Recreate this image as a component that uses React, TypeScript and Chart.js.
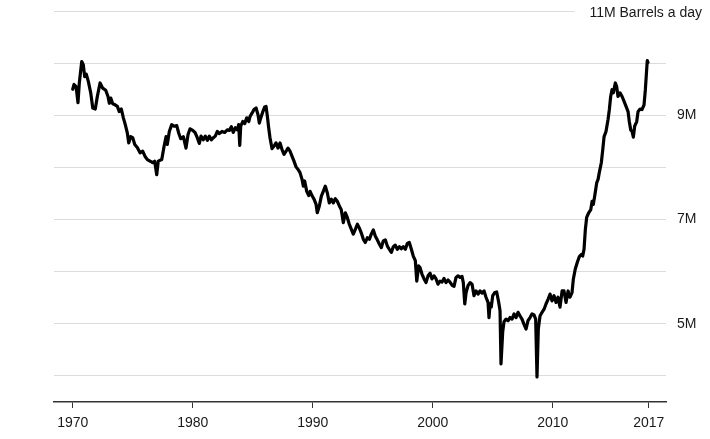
import React, { useEffect, useRef } from "react";
import { Chart, registerables } from "chart.js";

Chart.register(...registerables);

// US crude oil production, million barrels a day
const years = [
  1970.0, 1970.11, 1970.28, 1970.44, 1970.55, 1970.75, 1970.88, 1971.0, 1971.13, 1971.3,
  1971.5, 1971.67, 1971.88, 1972.05, 1972.28, 1972.5, 1972.75, 1972.94, 1973.05, 1973.17,
  1973.33, 1973.53, 1973.72, 1973.88, 1974.05, 1974.22, 1974.38, 1974.55, 1974.67, 1974.83,
  1975.0, 1975.17, 1975.38, 1975.61, 1975.83, 1976.03, 1976.22, 1976.44, 1976.67, 1976.83,
  1977.0, 1977.13, 1977.42, 1977.61, 1977.78, 1977.88, 1978.05, 1978.25, 1978.44, 1978.67,
  1978.83, 1979.0, 1979.22, 1979.44, 1979.61, 1979.78, 1980.0, 1980.19, 1980.38, 1980.55,
  1980.69, 1980.88, 1981.05, 1981.22, 1981.38, 1981.55, 1981.72, 1981.88, 1982.05, 1982.22,
  1982.44, 1982.67, 1982.88, 1983.05, 1983.22, 1983.38, 1983.55, 1983.72, 1983.83, 1983.92,
  1984.0, 1984.17, 1984.33, 1984.5, 1984.67, 1984.78, 1984.94, 1985.11, 1985.28, 1985.44,
  1985.55, 1985.67, 1985.83, 1986.0, 1986.11, 1986.22, 1986.33, 1986.44, 1986.61, 1986.78,
  1986.94, 1987.11, 1987.28, 1987.44, 1987.61, 1987.78, 1987.94, 1988.11, 1988.28, 1988.44,
  1988.61, 1988.78, 1988.94, 1989.11, 1989.22, 1989.33, 1989.5, 1989.67, 1989.78, 1989.94,
  1990.11, 1990.28, 1990.38, 1990.55, 1990.72, 1990.88, 1991.05, 1991.22, 1991.38, 1991.55,
  1991.72, 1991.88, 1992.05, 1992.22, 1992.38, 1992.55, 1992.72, 1992.88, 1993.05, 1993.22,
  1993.38, 1993.55, 1993.72, 1993.88, 1994.05, 1994.22, 1994.38, 1994.55, 1994.72, 1994.88,
  1995.05, 1995.22, 1995.38, 1995.55, 1995.72, 1995.88, 1996.05, 1996.22, 1996.38, 1996.55,
  1996.72, 1996.88, 1997.05, 1997.22, 1997.38, 1997.55, 1997.72, 1997.88, 1998.05, 1998.22,
  1998.38, 1998.55, 1998.67, 1998.83, 1998.94, 1999.11, 1999.28, 1999.44, 1999.61, 1999.78,
  1999.94, 2000.11, 2000.28, 2000.44, 2000.61, 2000.78, 2000.94, 2001.11, 2001.28, 2001.44,
  2001.61, 2001.78, 2001.94, 2002.11, 2002.28, 2002.44, 2002.55, 2002.67, 2002.78, 2002.94,
  2003.11, 2003.28, 2003.44, 2003.61, 2003.78, 2003.94, 2004.11, 2004.28, 2004.44, 2004.61,
  2004.69, 2004.78, 2004.88, 2005.0, 2005.17, 2005.33, 2005.5, 2005.61, 2005.69, 2005.83,
  2005.94, 2006.11, 2006.28, 2006.44, 2006.61, 2006.78, 2006.94, 2007.11, 2007.28, 2007.44,
  2007.61, 2007.78, 2007.94, 2008.11, 2008.28, 2008.44, 2008.58, 2008.69, 2008.8, 2008.94,
  2009.11, 2009.28, 2009.44, 2009.61, 2009.78, 2009.94, 2010.11, 2010.28, 2010.44, 2010.61,
  2010.78, 2010.94, 2011.11, 2011.28, 2011.44, 2011.61, 2011.72, 2011.88, 2012.05, 2012.22,
  2012.38, 2012.5, 2012.61, 2012.72, 2012.83, 2013.0, 2013.17, 2013.28, 2013.38, 2013.5,
  2013.67, 2013.78, 2013.88, 2014.05, 2014.17, 2014.28, 2014.44, 2014.61, 2014.72, 2014.83,
  2014.94, 2015.05, 2015.22, 2015.33, 2015.44, 2015.61, 2015.78, 2015.94, 2016.11, 2016.28,
  2016.38, 2016.5, 2016.61, 2016.72, 2016.83, 2017.0, 2017.11, 2017.28, 2017.44, 2017.61,
  2017.72, 2017.83, 2017.88, 2017.94,
];

const barrels = [
  9.5, 9.59, 9.55, 9.24, 9.62, 10.03, 9.97, 9.74, 9.79, 9.65,
  9.43, 9.14, 9.12, 9.36, 9.62, 9.52, 9.48, 9.36, 9.23, 9.33,
  9.22, 9.2, 9.17, 9.07, 9.12, 8.95, 8.82, 8.66, 8.47, 8.59,
  8.57, 8.44, 8.38, 8.28, 8.31, 8.21, 8.15, 8.12, 8.09, 8.12,
  7.86, 8.12, 8.15, 8.4, 8.59, 8.44, 8.69, 8.82, 8.79, 8.8,
  8.66, 8.55, 8.59, 8.37, 8.63, 8.74, 8.71, 8.67, 8.57, 8.46,
  8.6, 8.53, 8.6, 8.52, 8.6, 8.53, 8.57, 8.6, 8.69, 8.65,
  8.69, 8.67, 8.72, 8.71, 8.78, 8.67, 8.76, 8.72, 8.82, 8.42,
  8.79, 8.88, 8.84, 8.95, 8.88, 8.98, 9.04, 9.11, 9.14, 9.01,
  8.85, 8.95, 9.06, 9.16, 9.17, 8.98, 8.76, 8.57, 8.36, 8.41,
  8.47, 8.37, 8.47, 8.34, 8.25, 8.31, 8.37, 8.31, 8.21, 8.12,
  8.01, 7.96, 7.9, 7.77, 7.64, 7.74, 7.54, 7.46, 7.54, 7.46,
  7.39, 7.29, 7.13, 7.26, 7.45, 7.54, 7.64, 7.51, 7.32, 7.39,
  7.32, 7.4, 7.35, 7.26, 7.19, 6.94, 7.13, 7.04, 6.91, 6.81,
  6.72, 6.81, 6.91, 6.84, 6.74, 6.62, 6.56, 6.65, 6.62, 6.72,
  6.8, 6.68, 6.61, 6.53, 6.46, 6.59, 6.61, 6.49, 6.43, 6.37,
  6.48, 6.51, 6.43, 6.48, 6.44, 6.48, 6.43, 6.54, 6.56, 6.43,
  6.3, 6.21, 5.82, 6.11, 6.08, 5.95, 5.86, 5.79, 5.92, 5.97,
  5.86, 5.92, 5.86, 5.76, 5.82, 5.8, 5.87, 5.79, 5.84, 5.8,
  5.74, 5.72, 5.89, 5.92, 5.89, 5.91, 5.79, 5.38, 5.6, 5.73,
  5.79, 5.76, 5.54, 5.63, 5.57, 5.63, 5.59, 5.63, 5.51, 5.41,
  5.12, 5.38, 5.32, 5.54, 5.6, 5.61, 5.41, 5.25, 4.23, 4.84,
  5.04, 5.09, 5.06, 5.12, 5.09, 5.19, 5.12, 5.22, 5.15, 5.09,
  4.99, 4.9, 5.06, 5.12, 5.19, 5.17, 5.09, 3.98, 4.9, 5.15,
  5.22, 5.28, 5.38, 5.47, 5.57, 5.44, 5.54, 5.41, 5.51, 5.32,
  5.63, 5.63, 5.41, 5.63, 5.51, 5.6, 5.86, 6.05, 6.18, 6.29,
  6.33, 6.3, 6.43, 6.81, 7.04, 7.13, 7.19, 7.35, 7.29, 7.45,
  7.71, 7.77, 7.9, 8.09, 8.34, 8.59, 8.69, 8.92, 9.11, 9.36,
  9.49, 9.43, 9.62, 9.55, 9.36, 9.43, 9.36, 9.27, 9.17, 9.07,
  8.88, 8.72, 8.69, 8.58, 8.79, 8.88, 9.07, 9.12, 9.11, 9.2,
  9.49, 9.88, 10.05, 10.01,
];

const yTicks = [4, 5, 6, 7, 8, 9, 10, 11];
const yLabeled = [5, 7, 9];
const xTicks = [1970, 1980, 1990, 2000, 2010, 2018];
const xTickLabels = ["1970", "1980", "1990", "2000", "2010", "2017"];
const topValue = 11;
const topLabel = "11M Barrels a day";

const FONT_FAMILY = '"Liberation Sans", Arial, Helvetica, sans-serif';
const GRID_COLOR = "#dcdcdc";
const TEXT_COLOR = "#1a1a1a";
const AXIS_COLOR = "#333333";

const topLabelPlugin = {
  id: "topLabel",
  beforeDatasetsDraw(chart: any) {
    const { ctx, chartArea, scales } = chart;
    const y = scales.y.getPixelForValue(topValue);
    ctx.save();
    ctx.font = `14px ${FONT_FAMILY}`;
    const textRight = chart.width - 8;
    const w = ctx.measureText(topLabel).width;
    ctx.strokeStyle = GRID_COLOR;
    ctx.lineWidth = 1;
    ctx.beginPath();
    ctx.moveTo(chartArea.left, Math.round(y) + 0.5);
    ctx.lineTo(textRight - w - 15, Math.round(y) + 0.5);
    ctx.stroke();
    ctx.fillStyle = TEXT_COLOR;
    ctx.textAlign = "right";
    ctx.textBaseline = "middle";
    ctx.fillText(topLabel, textRight, y + 2);
    ctx.restore();
  },
};

export default function App() {
  const canvasRef = useRef<HTMLCanvasElement | null>(null);

  useEffect(() => {
    document.body.style.margin = "0";
    if (!canvasRef.current) return;
    const chart = new Chart(canvasRef.current, {
      type: "line",
      data: {
        datasets: [
          {
            data: years.map((x, i) => ({ x, y: barrels[i] })),
            borderColor: "#000000",
            borderWidth: 3.2,
            pointRadius: 0,
            tension: 0,
            borderJoinStyle: "round",
            borderCapStyle: "round",
            fill: false,
          },
        ],
      },
      options: {
        animation: false,
        responsive: false,
        devicePixelRatio: 1,
        layout: { padding: { left: 54, top: 11, right: 0, bottom: 0 } },
        plugins: {
          legend: { display: false },
          tooltip: { enabled: false },
          title: { display: false },
        },
        scales: {
          x: {
            type: "linear",
            min: 1968.44,
            max: 2019.44,
            afterBuildTicks: (scale: any) => {
              scale.ticks = xTicks.map((v) => ({ value: v }));
            },
            afterFit: (scale: any) => {
              scale.height = 37;
              scale.paddingLeft = 0;
              scale.paddingRight = 0;
            },
            ticks: {
              autoSkip: false,
              maxRotation: 0,
              padding: 7,
              color: TEXT_COLOR,
              font: { family: FONT_FAMILY, size: 14 },
              callback: (_v: any, i: number) => xTickLabels[i],
            },
            grid: {
              drawOnChartArea: false,
              drawTicks: true,
              tickLength: 6,
              color: AXIS_COLOR,
              lineWidth: 1,
            },
            border: { display: true, color: AXIS_COLOR, width: 1.5 },
          },
          y: {
            type: "linear",
            position: "right",
            min: 3.5,
            max: 11,
            afterBuildTicks: (scale: any) => {
              scale.ticks = yTicks.map((v) => ({ value: v }));
            },
            afterFit: (scale: any) => {
              scale.width = 44;
              scale.paddingTop = 0;
              scale.paddingBottom = 0;
            },
            ticks: {
              padding: 11,
              color: TEXT_COLOR,
              font: { family: FONT_FAMILY, size: 14 },
              callback: (v: any) => (yLabeled.includes(Number(v)) ? `${v}M` : ""),
            },
            grid: {
              drawTicks: false,
              lineWidth: 1,
              color: (ctx: any) =>
                ctx.tick && ctx.tick.value === topValue ? "rgba(0,0,0,0)" : GRID_COLOR,
            },
            border: { display: false },
          },
        },
      },
      plugins: [topLabelPlugin],
    });
    return () => chart.destroy();
  }, []);

  return (
    <div style={{ width: 710, height: 439 }}>
      <canvas ref={canvasRef} width={710} height={439} />
    </div>
  );
}
